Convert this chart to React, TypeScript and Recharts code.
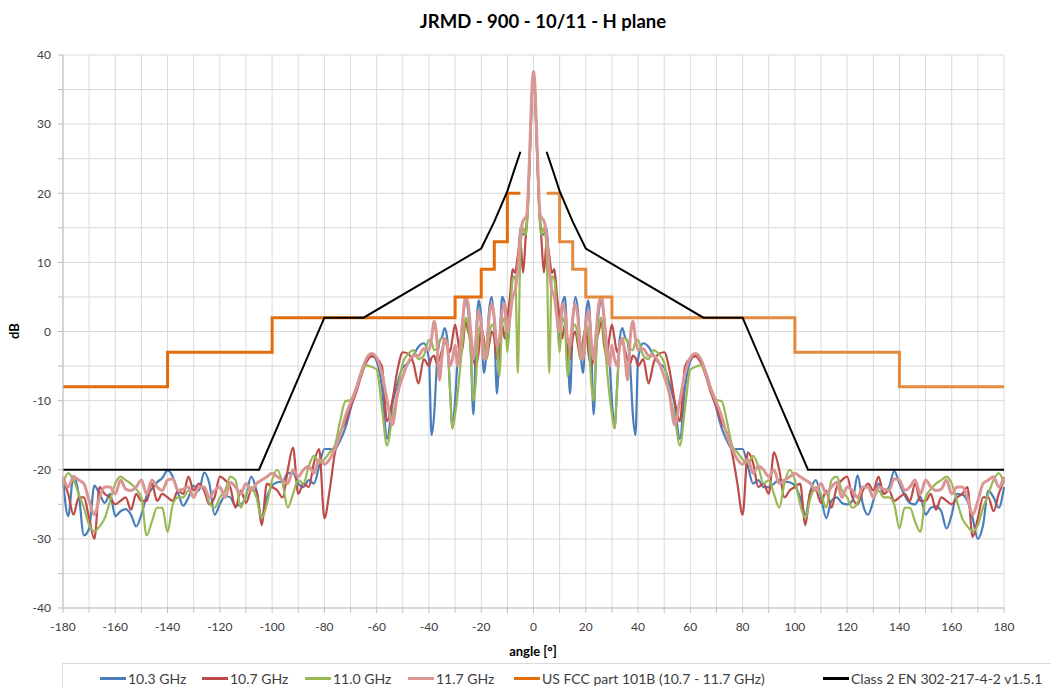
import React from "react";
import { LineChart, Line, XAxis, YAxis, CartesianGrid } from "recharts";

// angles, right half (0..180) and left half (-0.5..-180)
const rightAngles = [0, 0.5, 1, 1.5, 2, 2.5, 3, 4, 5, 6, 7, 8, 9, 10, 11, 12, 13, 14, 15, 16, 17, 18, 19, 20, 21, 22, 23, 24, 25, 26, 27, 28, 29, 30, 31, 32, 33, 34, 35, 36, 37, 38, 39, 40, 42, 44, 46, 48, 50, 52, 54, 56, 58, 60, 62, 64, 66, 68, 70, 72, 74, 76, 78, 80, 82, 84, 86, 88, 90, 92, 94, 96, 98, 100, 102, 104, 106, 108, 110, 112, 114, 116, 118, 120, 122, 124, 126, 128, 130, 132, 134, 136, 138, 140, 142, 144, 146, 148, 150, 152, 154, 156, 158, 160, 162, 164, 166, 168, 170, 172, 174, 176, 178, 180];
const leftAngles = [-0.5, -1, -1.5, -2, -2.5, -3, -4, -5, -6, -7, -8, -9, -10, -11, -12, -13, -14, -15, -16, -17, -18, -19, -20, -21, -22, -23, -24, -25, -26, -27, -28, -29, -30, -31, -32, -33, -34, -35, -36, -37, -38, -39, -40, -42, -44, -46, -48, -50, -52, -54, -56, -58, -60, -62, -64, -66, -68, -70, -72, -74, -76, -78, -80, -82, -84, -86, -88, -90, -92, -94, -96, -98, -100, -102, -104, -106, -108, -110, -112, -114, -116, -118, -120, -122, -124, -126, -128, -130, -132, -134, -136, -138, -140, -142, -144, -146, -148, -150, -152, -154, -156, -158, -160, -162, -164, -166, -168, -170, -172, -174, -176, -178, -180];

// 10.3 GHz
const blueRight = [36.8, 35, 30, 24.5, 19.5, 16, 14.5, 14, 15, 10, 8.5, 9, 3, -2, 4, 5, -2, -9, 1, 5, 3, -3, -6, 2, 4.5, -1, -12, -3, 3, 4.5, 2, -2, -4, -10, -14, -8, -1, 0.5, -0.8, -1.5, -5, -12, -15, -4, -1.7, -2.2, -3.5, -4.6, -5.2, -7.5, -10.5, -15.5, -8, -4.3, -3.4, -4.3, -6, -8.5, -11.2, -14, -15.8, -17, -17, -17, -19.5, -22, -21.5, -22.5, -22.5, -22, -21.5, -21.7, -21.8, -22.3, -24, -26.5, -23, -21.5, -24, -27, -24.5, -24, -24.8, -25, -24.5, -20.8, -25, -26.5, -24.5, -22, -23.5, -22.5, -20.2, -22, -23.7, -24.8, -25, -23.9, -26.5, -25.5, -25.3, -26, -28.5, -26.5, -23.5, -23.6, -24.5, -27, -30, -28, -23, -24, -25.5, -22.5];
const blueLeft = [35, 30, 24.5, 19.5, 16, 14.5, 14, 15, 10, 8.5, 9, 3, -2, 4, 5, -2, -9, 1, 5, 3, -3, -6, 2, 4.5, -1, -12, -3, 3, 4.5, 2, -2, -4, -10, -14, -8, -1, 0.5, -0.8, -1.5, -5, -12, -15, -4, -1.7, -2.2, -3.5, -4.6, -5.2, -7.5, -10.5, -15.5, -8, -4.3, -3.4, -4.3, -6, -8.5, -11.2, -14, -15.8, -17, -17, -17, -19.5, -22, -21.5, -22.5, -22, -20.5, -20.5, -21.7, -21.8, -22.3, -24, -26.8, -23, -21, -23.8, -25, -25.2, -24, -23.8, -25, -26.5, -22, -20.4, -23, -22.3, -24, -25.2, -23.3, -21, -20.1, -21.2, -21.8, -22.8, -23.8, -26.5, -28.2, -26.5, -25.7, -26, -26.7, -23.5, -24.8, -23.5, -22.3, -28.5, -29.5, -23.5, -20.9, -26.7, -21.4];

// 10.7 GHz
const redRight = [37.2, 35.3, 30.2, 24.5, 19.5, 16, 13.5, 8.5, 13, 11, 8.5, 9, 5, 2, -1, 1, -3, -4, -1, 0, -2, -4, -1, 0.5, -3, -5, -4, -1.5, 0, 1.5, -2, -3.5, -1, 1, -1, -3, -2, -1.5, -2.7, -4, -4.6, -3.5, -3.8, -5, -4, -7.5, -4.5, -3.2, -3, -5.5, -10, -13, -5, -3.9, -3.6, -4.5, -6.5, -9, -10.9, -13.2, -14.7, -17.6, -22, -26.5, -17.5, -19, -22.5, -22, -23.5, -17.5, -20, -24, -23, -22.5, -22, -28, -23, -23, -24.8, -23, -25.5, -22.5, -21.5, -21, -24, -25, -23, -22, -23, -21, -23.5, -23, -24.5, -24, -23.5, -24.5, -22, -24.5, -24.5, -23.5, -25.8, -24, -24.5, -25, -24, -23.5, -22.5, -29.7, -27, -24, -24, -26, -23.5, -21.5];
const redLeft = [35.3, 30.2, 24.5, 19.5, 16, 13.5, 8.5, 13, 11, 8.5, 9, 5, 2, -1, 1, -3, -4, -1, 0, -2, -4, -1, 0.5, -3, -5, -4, -1.5, 0, 1.5, -2, -3.5, -1, 1, -1, -3, -2, -1.5, -2.7, -4, -4.6, -3.5, -3.8, -5, -4, -7.5, -4.5, -3.2, -3, -5.5, -10, -13, -5, -3.9, -3.6, -4.5, -6.5, -9, -10.9, -13.2, -14.7, -17.6, -23, -27, -17, -19, -22.5, -22, -23.5, -16.8, -20, -24, -23, -22.5, -22, -28, -23, -23, -24.8, -23, -25.5, -22.5, -21.5, -21, -24, -25, -23, -22, -23, -21, -23.5, -23, -24.5, -24, -23.5, -24.5, -22, -24.5, -24.5, -23.5, -25.8, -24, -24.5, -25, -24, -23.5, -22.5, -30, -27, -24, -24, -26.5, -23.5, -21.5];

// 11.0 GHz
const greenRight = [36.8, 35, 30, 24.5, 19, 15.5, 14, 15, 12, -6, 8, 7.5, 2, -3, 2, 1, -6.5, -2, 0.5, 1, -1, -4, -2, 1, 0, -7, -10, -3, 1, 2, -1, -5, -9, -12, -14, -8, -2, -1, -1, -1.5, -2.5, -2.7, -1.5, -1.2, -3.5, -4, -2.7, -3.3, -4.5, -9, -12.3, -16.5, -11, -5.5, -5.1, -4.9, -6.2, -8.3, -9.9, -10.1, -13, -16.5, -17.5, -18.5, -19, -18, -19.5, -22, -21.5, -23.5, -25.5, -22, -20, -21.5, -25, -27, -24, -22.5, -23.5, -25.5, -21.5, -21, -23, -24, -25.5, -24.8, -22.5, -22.5, -24, -23, -24, -24, -25, -28.5, -25.5, -25.5, -27.5, -29, -24, -22.8, -22, -21.5, -21, -22, -24.5, -27, -28.2, -28.9, -28, -25.5, -23.5, -21.5, -20.5, -22];
const greenLeft = [35, 30, 24.5, 19, 15.5, 14, 15, 12, -6, 8, 7.5, 2, -3, 2, 1, -6.5, -2, 0.5, 1, -1, -4, -2, 1, 0, -7, -10, -3, 1, 2, -1, -5, -9, -12, -14, -8, -2, -1, -1, -1.5, -2.5, -2.7, -1.5, -1.2, -3.5, -4, -2.7, -3.3, -4.5, -9, -12.3, -16.5, -11, -5.5, -5.1, -4.9, -6.2, -8.3, -9.9, -10.1, -13, -16.5, -17.5, -18.5, -19, -18, -19.5, -22, -21.5, -23.5, -25.5, -22, -20, -21.5, -25, -27, -24, -22.5, -23.5, -25.5, -21.5, -21, -23, -24, -25.5, -24.8, -22.5, -22.5, -24, -23, -24, -24, -25, -29, -25.5, -25.5, -27.5, -29.5, -24, -22.8, -22, -21.5, -21, -22, -24.5, -27, -28.2, -28.9, -28, -25.5, -23.5, -21.5, -20.5, -22];

// 11.7 GHz
const pinkRight = [37.6, 35.8, 31, 25.5, 20.5, 17, 16.5, 16, 14, 9, 6, 5, 2, 0, 4, 3, -1, -2, 2, 4, 2, -3, -4, 1, 3, -1, -4, 0, 4, 5, 2, -2, -5, -2, -4, -5, -2, -1, -3.6, -7, -1, 1.5, -1, -2.7, -2.5, -3.5, -3.5, -4.5, -6.5, -9, -13.5, -10, -6, -3.8, -3.2, -4, -6, -8.5, -10.3, -12.3, -15, -17, -18.5, -19.2, -18.5, -20.5, -19.5, -20, -21, -20, -22, -21.5, -21, -20.5, -21, -21.5, -22, -23, -22, -23.5, -22.5, -21.8, -24, -22.5, -23, -24, -22.5, -22.5, -24, -22.5, -22.8, -23, -21.3, -21.5, -23, -22.5, -21.5, -23.5, -21.5, -22.5, -23, -22.8, -21.5, -23.5, -22.5, -22.5, -24, -26.5, -24.5, -22, -21.5, -21, -22.5, -21];
const pinkLeft = [35.8, 31, 25.5, 20.5, 17, 16.5, 16, 14, 9, 6, 5, 2, 0, 4, 3, -1, -2, 2, 4, 2, -3, -4, 1, 3, -1, -4, 0, 4, 5, 2, -2, -5, -2, -4, -5, -2, -1, -3.6, -7, -1, 1.5, -1, -2.7, -2.5, -3.5, -3.5, -4.5, -6.5, -9, -13.5, -10, -6, -3.8, -3.2, -4, -6, -8.5, -10.3, -12.3, -15, -17, -18.5, -19.2, -18.5, -20.5, -19.5, -20, -21, -20, -22, -21.5, -21, -20.5, -21, -21.5, -22, -23, -22, -23.5, -22.5, -21.8, -24, -22.5, -23, -24, -22.5, -22.5, -24, -22.5, -22.8, -23, -21.3, -21.5, -23, -22.5, -21.5, -23.5, -21.5, -22.5, -23, -22.8, -21.5, -23.5, -22.5, -22.5, -24, -26.5, -24.5, -22, -21.5, -21, -22.5, -21];

// US FCC part 101B mask (step)
const fccLeftAngles = [-180, -140, -100, -30, -20, -15, -10, -5];
const fccLeftLevels = [-8, -3, 2, 5, 9, 13, 20, 20];
const fccRightAngles = [5, 10, 15, 20, 30, 100, 140, 180];
const fccRightLevels = [20, 13, 9, 5, 2, -3, -8, -8];

// Class 2 EN 302-217-4-2 mask
const enAngles = [-180, -105, -80, -65, -20, -15, -10, -7.5, -5, 0, 5, 7.5, 10, 15, 20, 65, 80, 105, 180];
const enLevels = [-20, -20, 2, 2, 12, 15.9, 20.3, 23.2, 26, null, 26, 23.2, 20.3, 15.9, 12, 2, 2, -20, -20];

const seriesNames = ["10.3 GHz", "10.7 GHz", "11.0 GHz", "11.7 GHz", "US FCC part 101B (10.7 - 11.7 GHz)", "Class 2 EN 302-217-4-2 v1.5.1"];
const xTicks = [-180, -170, -160, -150, -140, -130, -120, -110, -100, -90, -80, -70, -60, -50, -40, -30, -20, -10, 0, 10, 20, 30, 40, 50, 60, 70, 80, 90, 100, 110, 120, 130, 140, 150, 160, 170, 180];
const yTicks = [-40, -35, -30, -25, -20, -15, -10, -5, 0, 5, 10, 15, 20, 25, 30, 35, 40];

const colors = ["#4A7EBB", "#BE4B48", "#98B954", "#DA9694", "#E46C0A", "#000000"];
const legendLeft = [100, 202, 305, 408, 514, 823];
const font = "Lato, 'Open Sans', sans-serif";

const rows = [
  ...leftAngles.map((angle, i) => ({ angle, b: blueLeft[i], r: redLeft[i], g: greenLeft[i], p: pinkLeft[i] })),
  ...rightAngles.map((angle, i) => ({ angle, b: blueRight[i], r: redRight[i], g: greenRight[i], p: pinkRight[i] })),
].sort((a, b) => a.angle - b.angle);

const fccLeft = fccLeftAngles.map((angle, i) => ({ angle, v: fccLeftLevels[i] }));
const fccRight = fccRightAngles.map((angle, i) => ({ angle, v: fccRightLevels[i] }));
const enRows = enAngles.map((angle, i) => ({ angle, v: enLevels[i] }));

const tickStyle = { fontSize: 12, fill: "#404040", fontFamily: font };

export default function App() {
  return (
    <div style={{ position: "absolute", left: 0, top: 0, width: 1051, height: 688, background: "#fff", overflow: "hidden", fontFamily: font }}>
      <div style={{ position: "absolute", left: 543, top: 10, transform: "translateX(-50%)", fontSize: 18.5, fontWeight: 700, color: "#000", whiteSpace: "nowrap" }}>
        JRMD - 900 - 10/11 - H plane
      </div>
      <div style={{ position: "absolute", left: 14, top: 331, transform: "translate(-50%,-50%) rotate(-90deg)", fontSize: 13, fontWeight: 700, color: "#000" }}>
        dB
      </div>
      <div style={{ position: "absolute", left: 533, top: 651, transform: "translate(-50%,-50%)", fontSize: 13, fontWeight: 700, color: "#000", whiteSpace: "nowrap" }}>
        angle [°]
      </div>
      <LineChart width={1051} height={688} data={rows} margin={{ top: 55, right: 47, left: 23, bottom: 50 }}>
        <CartesianGrid stroke="#d9d9d9" />
        <XAxis
          type="number"
          dataKey="angle"
          domain={[-180, 180]}
          ticks={xTicks}
          interval={0}
          tickFormatter={(v: number) => (v % 20 === 0 ? String(v) : "")}
          tick={tickStyle}
          tickSize={5}
          tickMargin={9}
          height={30}
          axisLine={{ stroke: "#bfbfbf" }}
          tickLine={{ stroke: "#bfbfbf" }}
        />
        <YAxis
          type="number"
          domain={[-40, 40]}
          ticks={yTicks}
          interval={0}
          tickFormatter={(v: number) => (v % 10 === 0 ? String(v) : "")}
          tick={tickStyle}
          tickSize={5}
          tickMargin={7}
          width={40}
          axisLine={{ stroke: "#bfbfbf" }}
          tickLine={{ stroke: "#bfbfbf" }}
        />
        <Line type="monotone" dataKey="b" name={seriesNames[0]} stroke={colors[0]} strokeWidth={2.2} dot={false} isAnimationActive={false} />
        <Line type="monotone" dataKey="r" name={seriesNames[1]} stroke={colors[1]} strokeWidth={2.2} dot={false} isAnimationActive={false} />
        <Line type="monotone" dataKey="g" name={seriesNames[2]} stroke={colors[2]} strokeWidth={2.2} dot={false} isAnimationActive={false} />
        <Line type="monotone" dataKey="p" name={seriesNames[3]} stroke={colors[3]} strokeWidth={3} dot={false} isAnimationActive={false} />
        <Line data={fccLeft} type="stepAfter" dataKey="v" name={seriesNames[4]} stroke={colors[4]} strokeWidth={3} dot={false} isAnimationActive={false} />
        <Line data={fccRight} type="stepAfter" dataKey="v" name="fcc-right" stroke="#E38A3F" strokeWidth={3} dot={false} isAnimationActive={false} legendType="none" />
        <Line data={enRows} type="linear" dataKey="v" name={seriesNames[5]} stroke={colors[5]} strokeWidth={2} dot={false} connectNulls={false} isAnimationActive={false} />
      </LineChart>
      <div style={{ position: "absolute", left: 62, top: 663, width: 1000, height: 30, border: "1px solid #d9d9d9", boxSizing: "border-box" }} />
      {seriesNames.map((name, i) => (
        <div key={name} style={{ position: "absolute", left: legendLeft[i], top: 670, height: 16, display: "flex", alignItems: "center", fontSize: 14, color: "#404040", whiteSpace: "nowrap" }}>
          <span style={{ display: "inline-block", width: 26, height: 3, background: colors[i], marginRight: 2 }} />
          {name}
        </div>
      ))}
    </div>
  );
}
